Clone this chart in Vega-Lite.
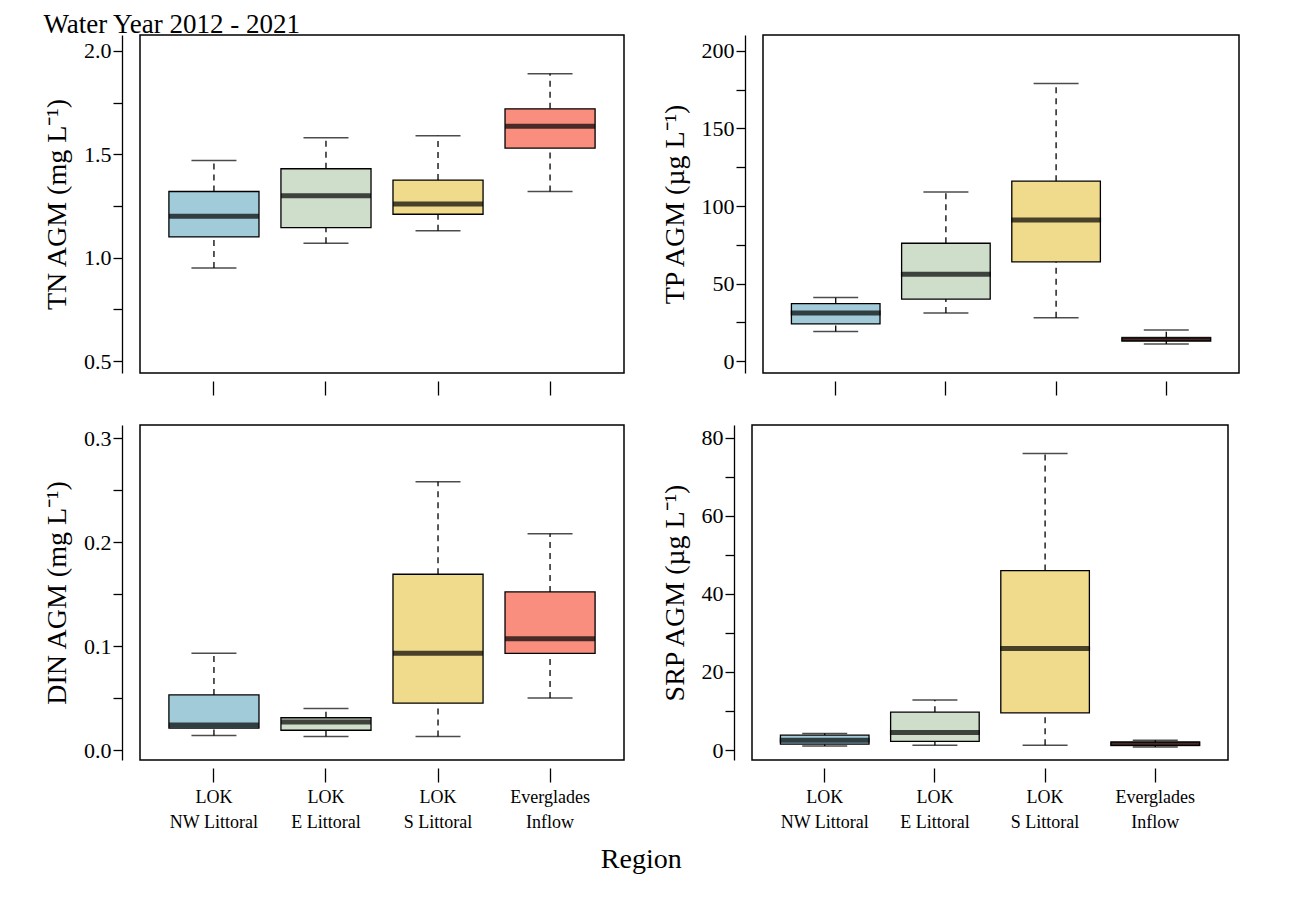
{
  "$schema": "https://vega.github.io/schema/vega-lite/v6.json",
  "padding": {"left": 42, "top": 10, "right": 5, "bottom": 5},
  "background": "white",
  "config": {
    "font": "Liberation Serif",
    "view": {"stroke": "black", "strokeWidth": 1.5},
    "axis": {"labelFont": "Liberation Serif", "titleFont": "Liberation Serif", "labelColor": "black", "titleColor": "black", "tickColor": "black", "domainColor": "black", "grid": false, "labelFontSize": 22, "titleFontSize": 28, "titleFontWeight": "normal", "tickWidth": 1.3, "domainWidth": 1.3},
    "title": {"font": "Liberation Serif", "fontWeight": "normal", "color": "black"}
  },
  "datasets": {
    "box": [
      {"v": "TN", "region": "LOK|NW Littoral", "lo": 0.95, "q1": 1.10, "med": 1.20, "q3": 1.32, "hi": 1.47},
      {"v": "TN", "region": "LOK|E Littoral", "lo": 1.07, "q1": 1.145, "med": 1.30, "q3": 1.43, "hi": 1.58},
      {"v": "TN", "region": "LOK|S Littoral", "lo": 1.13, "q1": 1.21, "med": 1.26, "q3": 1.375, "hi": 1.59},
      {"v": "TN", "region": "Everglades|Inflow", "lo": 1.32, "q1": 1.53, "med": 1.635, "q3": 1.72, "hi": 1.89},
      {"v": "TP", "region": "LOK|NW Littoral", "lo": 19, "q1": 24, "med": 31, "q3": 37, "hi": 41},
      {"v": "TP", "region": "LOK|E Littoral", "lo": 31, "q1": 40, "med": 56, "q3": 76, "hi": 109},
      {"v": "TP", "region": "LOK|S Littoral", "lo": 28, "q1": 64, "med": 91, "q3": 116, "hi": 179},
      {"v": "TP", "region": "Everglades|Inflow", "lo": 11, "q1": 13, "med": 14, "q3": 15, "hi": 20},
      {"v": "DIN", "region": "LOK|NW Littoral", "lo": 0.014, "q1": 0.021, "med": 0.024, "q3": 0.053, "hi": 0.093},
      {"v": "DIN", "region": "LOK|E Littoral", "lo": 0.013, "q1": 0.019, "med": 0.027, "q3": 0.031, "hi": 0.040},
      {"v": "DIN", "region": "LOK|S Littoral", "lo": 0.013, "q1": 0.045, "med": 0.093, "q3": 0.169, "hi": 0.258},
      {"v": "DIN", "region": "Everglades|Inflow", "lo": 0.050, "q1": 0.093, "med": 0.107, "q3": 0.152, "hi": 0.208},
      {"v": "SRP", "region": "LOK|NW Littoral", "lo": 1, "q1": 1.5, "med": 2.5, "q3": 3.8, "hi": 4.2},
      {"v": "SRP", "region": "LOK|E Littoral", "lo": 1.2, "q1": 2.2, "med": 4.5, "q3": 9.7, "hi": 12.8},
      {"v": "SRP", "region": "LOK|S Littoral", "lo": 1.2, "q1": 9.5, "med": 26, "q3": 46, "hi": 76},
      {"v": "SRP", "region": "Everglades|Inflow", "lo": 0.8, "q1": 1.2, "med": 1.6, "q3": 2, "hi": 2.5}
    ]
  },
  "data": {"name": "box"},
  "title": {"text": "Region", "orient": "bottom", "anchor": "middle", "fontSize": 28, "offset": 14, "dx": 0},
  "spacing": 27,
  "vconcat": [
    {
      "spacing": 35,
      "hconcat": [
        {
          "width": 484, "height": 338,
          "title": {"text": "Water Year 2012 - 2021", "anchor": "start", "fontSize": 27, "offset": 0, "dy": 4},
          "transform": [{"filter": "datum.v == 'TN'"}],
          "encoding": {
            "x": {"field": "region", "type": "nominal", "sort": ["LOK|NW Littoral", "LOK|E Littoral", "LOK|S Littoral", "Everglades|Inflow"], "scale": {"paddingInner": 0.196, "paddingOuter": 0.258}, "axis": {"labels": false, "domain": false, "title": null, "tickSize": 14, "offset": 8}}
          },
          "layer": [
            {"mark": {"type": "rule", "strokeDash": [6, 5], "color": "black", "strokeWidth": 1.3}, "encoding": {"y": {"field": "lo", "type": "quantitative", "scale": {"domain": [0.442, 2.077], "nice": false, "zero": false}, "axis": {"values": [0.5, 0.75, 1.0, 1.25, 1.5, 1.75, 2.0], "labelExpr": "datum.value * 2 % 1 == 0 ? format(datum.value, '.1f') : ''", "offset": 18, "tickSize": 9, "title": "TN AGM (mg L⁻¹)", "titlePadding": 12}}, "y2": {"field": "q1"}}},
            {"mark": {"type": "rule", "strokeDash": [6, 5], "color": "black", "strokeWidth": 1.3}, "encoding": {"y": {"field": "q3", "type": "quantitative"}, "y2": {"field": "hi"}}},
            {"mark": {"type": "tick", "color": "black", "size": 45, "thickness": 1.5}, "encoding": {"y": {"field": "lo", "type": "quantitative"}}},
            {"mark": {"type": "tick", "color": "black", "size": 45, "thickness": 1.5}, "encoding": {"y": {"field": "hi", "type": "quantitative"}}},
            {"mark": {"type": "bar", "stroke": "black", "strokeWidth": 1.3}, "encoding": {"y": {"field": "q1", "type": "quantitative"}, "y2": {"field": "q3"}, "color": {"field": "region", "type": "nominal", "legend": null, "scale": {"domain": ["LOK|NW Littoral", "LOK|E Littoral", "LOK|S Littoral", "Everglades|Inflow"], "range": ["#A2CBDA", "#CFDDCB", "#F0DA8B", "#F98E7F"]}}}},
            {"mark": {"type": "tick", "color": "black", "size": 90, "thickness": 5}, "encoding": {"y": {"field": "med", "type": "quantitative"}}}
          ]
        },
        {
          "width": 476, "height": 338,
          "transform": [{"filter": "datum.v == 'TP'"}],
          "encoding": {
            "x": {"field": "region", "type": "nominal", "sort": ["LOK|NW Littoral", "LOK|E Littoral", "LOK|S Littoral", "Everglades|Inflow"], "scale": {"paddingInner": 0.196, "paddingOuter": 0.258}, "axis": {"labels": false, "domain": false, "title": null, "tickSize": 14, "offset": 8}}
          },
          "layer": [
            {"mark": {"type": "rule", "strokeDash": [6, 5], "color": "black", "strokeWidth": 1.3}, "encoding": {"y": {"field": "lo", "type": "quantitative", "scale": {"domain": [-7.7, 210.3], "nice": false, "zero": false}, "axis": {"values": [0, 25, 50, 75, 100, 125, 150, 175, 200], "labelExpr": "datum.value % 50 == 0 ? format(datum.value, 'd') : ''", "offset": 18, "tickSize": 9, "title": "TP AGM (µg L⁻¹)", "titlePadding": 12}}, "y2": {"field": "q1"}}},
            {"mark": {"type": "rule", "strokeDash": [6, 5], "color": "black", "strokeWidth": 1.3}, "encoding": {"y": {"field": "q3", "type": "quantitative"}, "y2": {"field": "hi"}}},
            {"mark": {"type": "tick", "color": "black", "size": 45, "thickness": 1.5}, "encoding": {"y": {"field": "lo", "type": "quantitative"}}},
            {"mark": {"type": "tick", "color": "black", "size": 45, "thickness": 1.5}, "encoding": {"y": {"field": "hi", "type": "quantitative"}}},
            {"mark": {"type": "bar", "stroke": "black", "strokeWidth": 1.3}, "encoding": {"y": {"field": "q1", "type": "quantitative"}, "y2": {"field": "q3"}, "color": {"field": "region", "type": "nominal", "legend": null, "scale": {"domain": ["LOK|NW Littoral", "LOK|E Littoral", "LOK|S Littoral", "Everglades|Inflow"], "range": ["#A2CBDA", "#CFDDCB", "#F0DA8B", "#F98E7F"]}}}},
            {"mark": {"type": "tick", "color": "black", "size": 90, "thickness": 5}, "encoding": {"y": {"field": "med", "type": "quantitative"}}}
          ]
        }
      ]
    },
    {
      "spacing": 35,
      "hconcat": [
        {
          "width": 484, "height": 335,
          "transform": [{"filter": "datum.v == 'DIN'"}],
          "encoding": {
            "x": {"field": "region", "type": "nominal", "sort": ["LOK|NW Littoral", "LOK|E Littoral", "LOK|S Littoral", "Everglades|Inflow"], "scale": {"paddingInner": 0.196, "paddingOuter": 0.258}, "axis": {"labelExpr": "split(datum.label, '|')", "labelAngle": 0, "labelFontSize": 18, "labelLineHeight": 25, "labelPadding": 6, "domain": false, "title": null, "tickSize": 14, "offset": 8}}
          },
          "layer": [
            {"mark": {"type": "rule", "strokeDash": [6, 5], "color": "black", "strokeWidth": 1.3}, "encoding": {"y": {"field": "lo", "type": "quantitative", "scale": {"domain": [-0.0096, 0.3125], "nice": false, "zero": false}, "axis": {"values": [0, 0.05, 0.1, 0.15, 0.2, 0.25, 0.3], "labelExpr": "round(datum.value * 100) % 10 == 0 ? format(datum.value, '.1f') : ''", "offset": 18, "tickSize": 9, "title": "DIN AGM (mg L⁻¹)", "titlePadding": 12}}, "y2": {"field": "q1"}}},
            {"mark": {"type": "rule", "strokeDash": [6, 5], "color": "black", "strokeWidth": 1.3}, "encoding": {"y": {"field": "q3", "type": "quantitative"}, "y2": {"field": "hi"}}},
            {"mark": {"type": "tick", "color": "black", "size": 45, "thickness": 1.5}, "encoding": {"y": {"field": "lo", "type": "quantitative"}}},
            {"mark": {"type": "tick", "color": "black", "size": 45, "thickness": 1.5}, "encoding": {"y": {"field": "hi", "type": "quantitative"}}},
            {"mark": {"type": "bar", "stroke": "black", "strokeWidth": 1.3}, "encoding": {"y": {"field": "q1", "type": "quantitative"}, "y2": {"field": "q3"}, "color": {"field": "region", "type": "nominal", "legend": null, "scale": {"domain": ["LOK|NW Littoral", "LOK|E Littoral", "LOK|S Littoral", "Everglades|Inflow"], "range": ["#A2CBDA", "#CFDDCB", "#F0DA8B", "#F98E7F"]}}}},
            {"mark": {"type": "tick", "color": "black", "size": 90, "thickness": 5}, "encoding": {"y": {"field": "med", "type": "quantitative"}}}
          ]
        },
        {
          "width": 476, "height": 335,
          "transform": [{"filter": "datum.v == 'SRP'"}],
          "encoding": {
            "x": {"field": "region", "type": "nominal", "sort": ["LOK|NW Littoral", "LOK|E Littoral", "LOK|S Littoral", "Everglades|Inflow"], "scale": {"paddingInner": 0.196, "paddingOuter": 0.258}, "axis": {"labelExpr": "split(datum.label, '|')", "labelAngle": 0, "labelFontSize": 18, "labelLineHeight": 25, "labelPadding": 6, "domain": false, "title": null, "tickSize": 14, "offset": 8}}
          },
          "layer": [
            {"mark": {"type": "rule", "strokeDash": [6, 5], "color": "black", "strokeWidth": 1.3}, "encoding": {"y": {"field": "lo", "type": "quantitative", "scale": {"domain": [-2.56, 83.3], "nice": false, "zero": false}, "axis": {"values": [0, 10, 20, 30, 40, 50, 60, 70, 80], "labelExpr": "datum.value % 20 == 0 ? format(datum.value, 'd') : ''", "offset": 18, "tickSize": 9, "title": "SRP AGM (µg L⁻¹)", "titlePadding": 12}}, "y2": {"field": "q1"}}},
            {"mark": {"type": "rule", "strokeDash": [6, 5], "color": "black", "strokeWidth": 1.3}, "encoding": {"y": {"field": "q3", "type": "quantitative"}, "y2": {"field": "hi"}}},
            {"mark": {"type": "tick", "color": "black", "size": 45, "thickness": 1.5}, "encoding": {"y": {"field": "lo", "type": "quantitative"}}},
            {"mark": {"type": "tick", "color": "black", "size": 45, "thickness": 1.5}, "encoding": {"y": {"field": "hi", "type": "quantitative"}}},
            {"mark": {"type": "bar", "stroke": "black", "strokeWidth": 1.3}, "encoding": {"y": {"field": "q1", "type": "quantitative"}, "y2": {"field": "q3"}, "color": {"field": "region", "type": "nominal", "legend": null, "scale": {"domain": ["LOK|NW Littoral", "LOK|E Littoral", "LOK|S Littoral", "Everglades|Inflow"], "range": ["#A2CBDA", "#CFDDCB", "#F0DA8B", "#F98E7F"]}}}},
            {"mark": {"type": "tick", "color": "black", "size": 90, "thickness": 5}, "encoding": {"y": {"field": "med", "type": "quantitative"}}}
          ]
        }
      ]
    }
  ]
}
